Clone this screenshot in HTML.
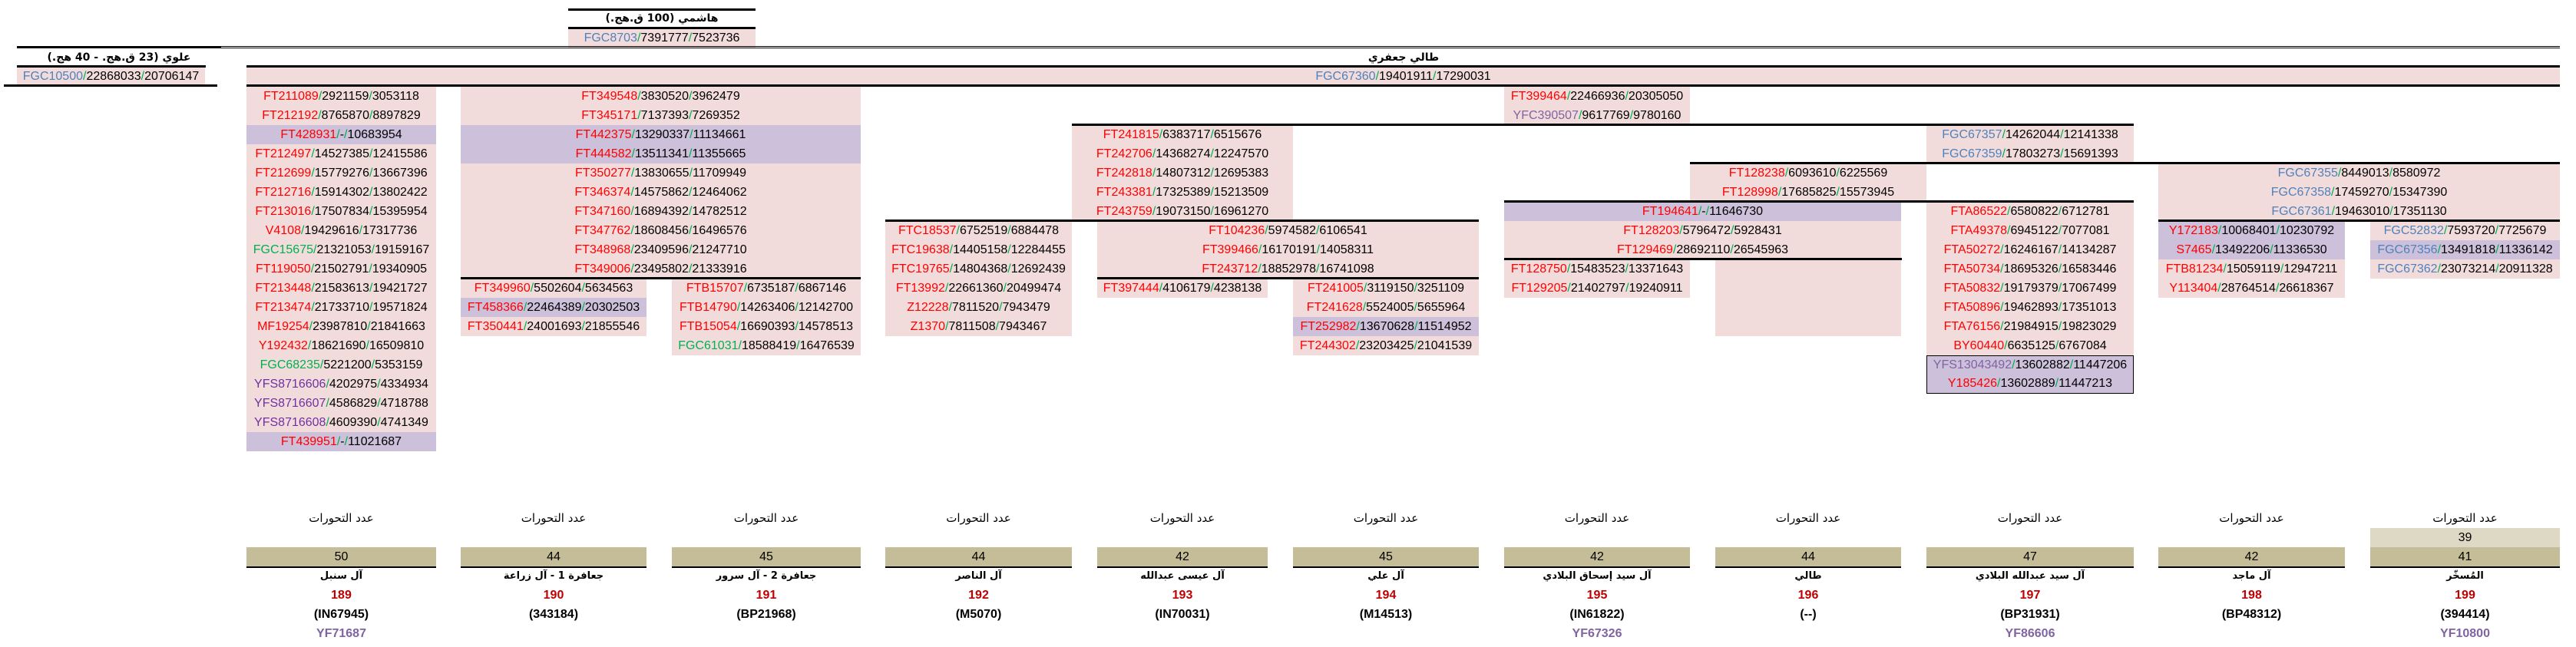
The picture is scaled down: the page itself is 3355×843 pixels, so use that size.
<!DOCTYPE html>
<html><head><meta charset="utf-8">
<style>
html,body{margin:0;padding:0;background:#fff;}
body{width:3355px;height:843px;position:relative;overflow:hidden;font-family:"Liberation Sans","DejaVu Sans",sans-serif;font-size:16px;color:#000;}
.blk{position:absolute;background:#F2DCDB;}
.blk>div{height:25px;line-height:25px;text-align:center;white-space:nowrap;}
.u{background:#CCC0DA;}
.h{position:absolute;height:3px;background:#000;}
.t{position:absolute;height:25px;line-height:25px;text-align:center;white-space:nowrap;}
.ar{font-family:"DejaVu Sans","Liberation Sans",sans-serif;font-weight:bold;font-size:14px;}
i{font-style:normal;color:#00B050;}
r{color:#FF0000;} g{color:#00B050;} bl{color:#4F81BD;} v{color:#7030A0;} l{color:#8064A2;}
.bot{position:absolute;top:663px;}
.bot>div{height:25px;line-height:25px;text-align:center;white-space:nowrap;}
.bot .hd{font-family:"DejaVu Sans","Liberation Sans",sans-serif;font-size:15px;}
.bot .kh{background:#C4BD97;box-shadow:0 2px 0 #000;}
.bot .kl{background:#DDD9C4;}
.bot .nm{font-family:"DejaVu Sans","Liberation Sans",sans-serif;font-weight:bold;font-size:13px;}
.bot .rn{color:#C00000;font-weight:bold;}
.bot .cd{font-weight:bold;}
.bot .yf{color:#8064A2;font-weight:bold;}
</style></head><body>

<!-- Top header هاشمي -->
<div class="h" style="left:740px;top:11px;width:244px"></div>
<div class="t ar" dir="rtl" style="left:740px;top:12px;width:244px;">هاشمي (100 ق.هج.)</div>
<div class="h" style="left:740px;top:35px;width:244px"></div>
<div class="blk" style="left:740px;top:38px;width:244px;height:24px"><div style="height:24px;line-height:24px"><bl>FGC8703</bl><i>/</i>7391777<i>/</i>7523736</div></div>

<!-- lines at y 60 -->
<div class="h" style="left:22px;top:60px;width:266px"></div>
<div style="position:absolute;left:287px;top:60px;width:3047px;height:1px;border-top:1px solid #000;border-bottom:1px solid #000;"></div>

<!-- علوي -->
<div class="t ar" dir="rtl" style="left:22px;top:63px;width:266px;">علوي (23 ق.هج. - 40 هج.)</div>
<div class="blk" style="left:22px;top:87px;width:245px;height:25px"><div><bl>FGC10500</bl><i>/</i>22868033<i>/</i>20706147</div></div>
<div class="h" style="left:22px;top:85px;width:246px"></div>
<div class="h" style="left:5px;top:110px;width:278px"></div>

<!-- طالي جعفري -->
<div class="t ar" dir="rtl" style="left:1628px;top:63px;width:400px;">طالي جعفري</div>
<div class="blk" style="left:321px;top:87px;width:3013px;height:25px"><div><bl>FGC67360</bl><i>/</i>19401911<i>/</i>17290031</div></div>
<div class="h" style="left:321px;top:85px;width:3013px"></div>
<div class="h" style="left:321px;top:110px;width:3013px"></div>

<!-- Col A -->
<div class="blk" style="left:321px;top:113px;width:247px">
<div><r>FT211089</r><i>/</i>2921159<i>/</i>3053118</div>
<div><r>FT212192</r><i>/</i>8765870<i>/</i>8897829</div>
<div class="u"><r>FT428931</r><i>/</i>-<i>/</i>10683954</div>
<div><r>FT212497</r><i>/</i>14527385<i>/</i>12415586</div>
<div><r>FT212699</r><i>/</i>15779276<i>/</i>13667396</div>
<div><r>FT212716</r><i>/</i>15914302<i>/</i>13802422</div>
<div><r>FT213016</r><i>/</i>17507834<i>/</i>15395954</div>
<div><r>V4108</r><i>/</i>19429616<i>/</i>17317736</div>
<div><g>FGC15675</g><i>/</i>21321053<i>/</i>19159167</div>
<div><r>FT119050</r><i>/</i>21502791<i>/</i>19340905</div>
<div><r>FT213448</r><i>/</i>21583613<i>/</i>19421727</div>
<div><r>FT213474</r><i>/</i>21733710<i>/</i>19571824</div>
<div><r>MF19254</r><i>/</i>23987810<i>/</i>21841663</div>
<div><r>Y192432</r><i>/</i>18621690<i>/</i>16509810</div>
<div><g>FGC68235</g><i>/</i>5221200<i>/</i>5353159</div>
<div><v>YFS8716606</v><i>/</i>4202975<i>/</i>4334934</div>
<div><v>YFS8716607</v><i>/</i>4586829<i>/</i>4718788</div>
<div><v>YFS8716608</v><i>/</i>4609390<i>/</i>4741349</div>
<div class="u"><r>FT439951</r><i>/</i>-<i>/</i>11021687</div>
</div>

<!-- Col B -->
<div class="blk" style="left:600px;top:113px;width:521px">
<div><r>FT349548</r><i>/</i>3830520<i>/</i>3962479</div>
<div><r>FT345171</r><i>/</i>7137393<i>/</i>7269352</div>
<div class="u"><r>FT442375</r><i>/</i>13290337<i>/</i>11134661</div>
<div class="u"><r>FT444582</r><i>/</i>13511341<i>/</i>11355665</div>
<div><r>FT350277</r><i>/</i>13830655<i>/</i>11709949</div>
<div><r>FT346374</r><i>/</i>14575862<i>/</i>12464062</div>
<div><r>FT347160</r><i>/</i>16894392<i>/</i>14782512</div>
<div><r>FT347762</r><i>/</i>18608456<i>/</i>16496576</div>
<div><r>FT348968</r><i>/</i>23409596<i>/</i>21247710</div>
<div><r>FT349006</r><i>/</i>23495802<i>/</i>21333916</div>
</div>
<div class="blk" style="left:600px;top:363px;width:242px">
<div><r>FT349960</r><i>/</i>5502604<i>/</i>5634563</div>
<div class="u"><r>FT458366</r><i>/</i>22464389<i>/</i>20302503</div>
<div><r>FT350441</r><i>/</i>24001693<i>/</i>21855546</div>
</div>
<div class="blk" style="left:875px;top:363px;width:246px">
<div><r>FTB15707</r><i>/</i>6735187<i>/</i>6867146</div>
<div><r>FTB14790</r><i>/</i>14263406<i>/</i>12142700</div>
<div><r>FTB15054</r><i>/</i>16690393<i>/</i>14578513</div>
<div><g>FGC61031</g><i>/</i>18588419<i>/</i>16476539</div>
</div>

<!-- Col C -->
<div class="blk" style="left:1153px;top:288px;width:243px">
<div><r>FTC18537</r><i>/</i>6752519<i>/</i>6884478</div>
<div><r>FTC19638</r><i>/</i>14405158<i>/</i>12284455</div>
<div><r>FTC19765</r><i>/</i>14804368<i>/</i>12692439</div>
<div><r>FT13992</r><i>/</i>22661360<i>/</i>20499474</div>
<div><r>Z12228</r><i>/</i>7811520<i>/</i>7943479</div>
<div><r>Z1370</r><i>/</i>7811508<i>/</i>7943467</div>
</div>

<!-- FT241815 block -->
<div class="blk" style="left:1396px;top:163px;width:288px">
<div><r>FT241815</r><i>/</i>6383717<i>/</i>6515676</div>
<div><r>FT242706</r><i>/</i>14368274<i>/</i>12247570</div>
<div><r>FT242818</r><i>/</i>14807312<i>/</i>12695383</div>
<div><r>FT243381</r><i>/</i>17325389<i>/</i>15213509</div>
<div><r>FT243759</r><i>/</i>19073150<i>/</i>16961270</div>
</div>

<!-- FT104236 block -->
<div class="blk" style="left:1429px;top:288px;width:497px">
<div><r>FT104236</r><i>/</i>5974582<i>/</i>6106541</div>
<div><r>FT399466</r><i>/</i>16170191<i>/</i>14058311</div>
<div><r>FT243712</r><i>/</i>18852978<i>/</i>16741098</div>
</div>
<div class="blk" style="left:1429px;top:363px;width:222px">
<div><r>FT397444</r><i>/</i>4106179<i>/</i>4238138</div>
</div>
<div class="blk" style="left:1684px;top:363px;width:242px">
<div><r>FT241005</r><i>/</i>3119150<i>/</i>3251109</div>
<div><r>FT241628</r><i>/</i>5524005<i>/</i>5655964</div>
<div class="u"><r>FT252982</r><i>/</i>13670628<i>/</i>11514952</div>
<div><r>FT244302</r><i>/</i>23203425<i>/</i>21041539</div>
</div>

<!-- FT399464 block -->
<div class="blk" style="left:1959px;top:113px;width:242px">
<div><r>FT399464</r><i>/</i>22466936<i>/</i>20305050</div>
<div><l>YFC390507</l><i>/</i>9617769<i>/</i>9780160</div>
</div>

<!-- FT128238 block -->
<div class="blk" style="left:2201px;top:213px;width:308px">
<div><r>FT128238</r><i>/</i>6093610<i>/</i>6225569</div>
<div><r>FT128998</r><i>/</i>17685825<i>/</i>15573945</div>
</div>

<!-- FGC67357 block -->
<div class="blk" style="left:2509px;top:163px;width:270px">
<div><bl>FGC67357</bl><i>/</i>14262044<i>/</i>12141338</div>
<div><bl>FGC67359</bl><i>/</i>17803273<i>/</i>15691393</div>
</div>

<!-- FT194641 block -->
<div class="blk" style="left:1959px;top:263px;width:517px">
<div class="u"><r>FT194641</r><i>/</i>-<i>/</i>11646730</div>
<div><r>FT128203</r><i>/</i>5796472<i>/</i>5928431</div>
<div><r>FT129469</r><i>/</i>28692110<i>/</i>26545963</div>
</div>
<div class="blk" style="left:1959px;top:338px;width:242px">
<div><r>FT128750</r><i>/</i>15483523<i>/</i>13371643</div>
<div><r>FT129205</r><i>/</i>21402797<i>/</i>19240911</div>
</div>
<div class="blk" style="left:2234px;top:338px;width:242px;height:100px"></div>

<!-- FTA block -->
<div class="blk" style="left:2509px;top:263px;width:270px">
<div><r>FTA86522</r><i>/</i>6580822<i>/</i>6712781</div>
<div><r>FTA49378</r><i>/</i>6945122<i>/</i>7077081</div>
<div><r>FTA50272</r><i>/</i>16246167<i>/</i>14134287</div>
<div><r>FTA50734</r><i>/</i>18695326<i>/</i>16583446</div>
<div><r>FTA50832</r><i>/</i>19179379<i>/</i>17067499</div>
<div><r>FTA50896</r><i>/</i>19462893<i>/</i>17351013</div>
<div><r>FTA76156</r><i>/</i>21984915<i>/</i>19823029</div>
<div><r>BY60440</r><i>/</i>6635125<i>/</i>6767084</div>
</div>
<div class="blk u" style="left:2509px;top:463px;width:268px;border:1px solid #000;">
<div style="height:24px;line-height:24px"><l>YFS13043492</l><i>/</i>13602882<i>/</i>11447206</div>
<div style="height:24px;line-height:24px"><r>Y185426</r><i>/</i>13602889<i>/</i>11447213</div>
</div>

<!-- FGC67355 block -->
<div class="blk" style="left:2811px;top:213px;width:523px">
<div><bl>FGC67355</bl><i>/</i>8449013<i>/</i>8580972</div>
<div><bl>FGC67358</bl><i>/</i>17459270<i>/</i>15347390</div>
<div><bl>FGC67361</bl><i>/</i>19463010<i>/</i>17351130</div>
</div>
<div class="blk" style="left:2811px;top:288px;width:243px">
<div class="u"><r>Y172183</r><i>/</i>10068401<i>/</i>10230792</div>
<div class="u"><r>S7465</r><i>/</i>13492206<i>/</i>11336530</div>
<div><r>FTB81234</r><i>/</i>15059119<i>/</i>12947211</div>
<div><r>Y113404</r><i>/</i>28764514<i>/</i>26618367</div>
</div>
<div class="blk" style="left:3087px;top:288px;width:247px">
<div><bl>FGC52832</bl><i>/</i>7593720<i>/</i>7725679</div>
<div class="u"><bl>FGC67356</bl><i>/</i>13491818<i>/</i>11336142</div>
<div><bl>FGC67362</bl><i>/</i>23073214<i>/</i>20911328</div>
</div>

<!-- separator lines -->
<div class="h" style="left:1396px;top:161px;width:1383px"></div>
<div class="h" style="left:2201px;top:211px;width:1133px"></div>
<div class="h" style="left:1959px;top:261px;width:820px"></div>
<div class="h" style="left:1153px;top:286px;width:773px"></div>
<div class="h" style="left:2811px;top:286px;width:523px"></div>
<div class="h" style="left:1959px;top:336px;width:518px"></div>
<div class="h" style="left:600px;top:361px;width:521px"></div>
<div class="h" style="left:1429px;top:361px;width:497px"></div>

<!-- Bottom section -->
<div class="bot" style="left:321px;width:247px"><div class="hd" dir="rtl">عدد التحورات</div><div></div><div class="kh">50</div><div class="nm" dir="rtl">آل سنبل</div><div class="rn">189</div><div class="cd">(IN67945)</div><div class="yf">YF71687</div></div>
<div class="bot" style="left:600px;width:242px"><div class="hd" dir="rtl">عدد التحورات</div><div></div><div class="kh">44</div><div class="nm" dir="rtl">جعافرة 1 - آل زراعة</div><div class="rn">190</div><div class="cd">(343184)</div></div>
<div class="bot" style="left:875px;width:246px"><div class="hd" dir="rtl">عدد التحورات</div><div></div><div class="kh">45</div><div class="nm" dir="rtl">جعافرة 2 - آل سرور</div><div class="rn">191</div><div class="cd">(BP21968)</div></div>
<div class="bot" style="left:1153px;width:243px"><div class="hd" dir="rtl">عدد التحورات</div><div></div><div class="kh">44</div><div class="nm" dir="rtl">آل الناصر</div><div class="rn">192</div><div class="cd">(M5070)</div></div>
<div class="bot" style="left:1429px;width:222px"><div class="hd" dir="rtl">عدد التحورات</div><div></div><div class="kh">42</div><div class="nm" dir="rtl">آل عيسى عبدالله</div><div class="rn">193</div><div class="cd">(IN70031)</div></div>
<div class="bot" style="left:1684px;width:242px"><div class="hd" dir="rtl">عدد التحورات</div><div></div><div class="kh">45</div><div class="nm" dir="rtl">آل علي</div><div class="rn">194</div><div class="cd">(M14513)</div></div>
<div class="bot" style="left:1959px;width:242px"><div class="hd" dir="rtl">عدد التحورات</div><div></div><div class="kh">42</div><div class="nm" dir="rtl">آل سيد إسحاق البلادي</div><div class="rn">195</div><div class="cd">(IN61822)</div><div class="yf">YF67326</div></div>
<div class="bot" style="left:2234px;width:242px"><div class="hd" dir="rtl">عدد التحورات</div><div></div><div class="kh">44</div><div class="nm" dir="rtl">طالي</div><div class="rn">196</div><div class="cd">(--)</div></div>
<div class="bot" style="left:2509px;width:270px"><div class="hd" dir="rtl">عدد التحورات</div><div></div><div class="kh">47</div><div class="nm" dir="rtl">آل سيد عبدالله البلادي</div><div class="rn">197</div><div class="cd">(BP31931)</div><div class="yf">YF86606</div></div>
<div class="bot" style="left:2811px;width:243px"><div class="hd" dir="rtl">عدد التحورات</div><div></div><div class="kh">42</div><div class="nm" dir="rtl">آل ماجد</div><div class="rn">198</div><div class="cd">(BP48312)</div></div>
<div class="bot" style="left:3087px;width:247px"><div class="hd" dir="rtl">عدد التحورات</div><div class="kl">39</div><div class="kh">41</div><div class="nm" dir="rtl">المُسخّر</div><div class="rn">199</div><div class="cd">(394414)</div><div class="yf">YF10800</div></div>

</body></html>
